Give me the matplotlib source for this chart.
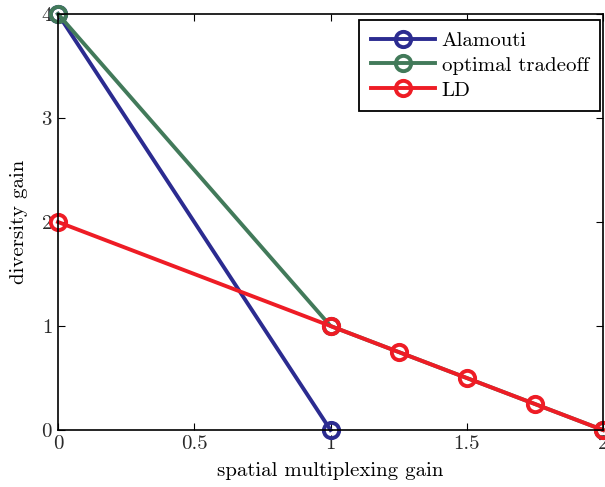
import numpy as np
import matplotlib
matplotlib.use('Agg')
import matplotlib.pyplot as plt

plt.rcParams['font.family'] = 'serif'
plt.rcParams['font.serif'] = ['cmr10', 'DejaVu Serif']
plt.rcParams['mathtext.fontset'] = 'cm'
plt.rcParams['axes.formatter.use_mathtext'] = True

# diversity-multiplexing tradeoff curves
alamouti_r = [0, 1]
alamouti_d = [4, 0]
optimal_r = [0, 1, 2]
optimal_d = [4, 1, 0]
ld_r = [0, 1, 1.25, 1.5, 1.75, 2]
ld_d = [2, 1, 0.75, 0.5, 0.25, 0]

x_ticks = [0, 0.5, 1, 1.5, 2]
y_ticks = [0, 1, 2, 3, 4]

fig = plt.figure(figsize=(6.05, 4.87), dpi=100)
ax = fig.add_axes([58 / 605, 57 / 487, 545 / 605, 416 / 487])

style = dict(marker='o', markersize=11, markerfacecolor='none',
             markeredgewidth=2.8, linewidth=2.8, clip_on=False)
ax.plot(alamouti_r, alamouti_d, color='#2b2b90', label='Alamouti', **style)
ax.plot(optimal_r, optimal_d, color='#427a5a', label='optimal tradeoff', **style)
ax.plot(ld_r, ld_d, color='#ee1c25', label='LD', **style)

ax.set_xlim(0, 2)
ax.set_ylim(0, 4)
ax.set_xticks(x_ticks)
ax.set_xticklabels(['0', '0.5', '1', '1.5', '2'])
ax.set_yticks(y_ticks)
ax.tick_params(direction='in', top=True, right=True, length=5,
               labelsize=15, labelcolor='#2a2a2a', pad=4)
for s in ax.spines.values():
    s.set_linewidth(1.2)

ax.set_xlabel('spatial multiplexing gain', fontsize=15, labelpad=6)
ax.set_ylabel('diversity gain', fontsize=15, labelpad=9)

leg = ax.legend(loc='upper right', fontsize=15, fancybox=False,
                edgecolor='black', framealpha=1, handlelength=3.1,
                borderpad=0.55, labelspacing=0.3, handletextpad=0.3,
                borderaxespad=0, bbox_to_anchor=(0.9945, 0.986))
leg.get_frame().set_linewidth(1.3)

fig.savefig('out.png', dpi=100)
